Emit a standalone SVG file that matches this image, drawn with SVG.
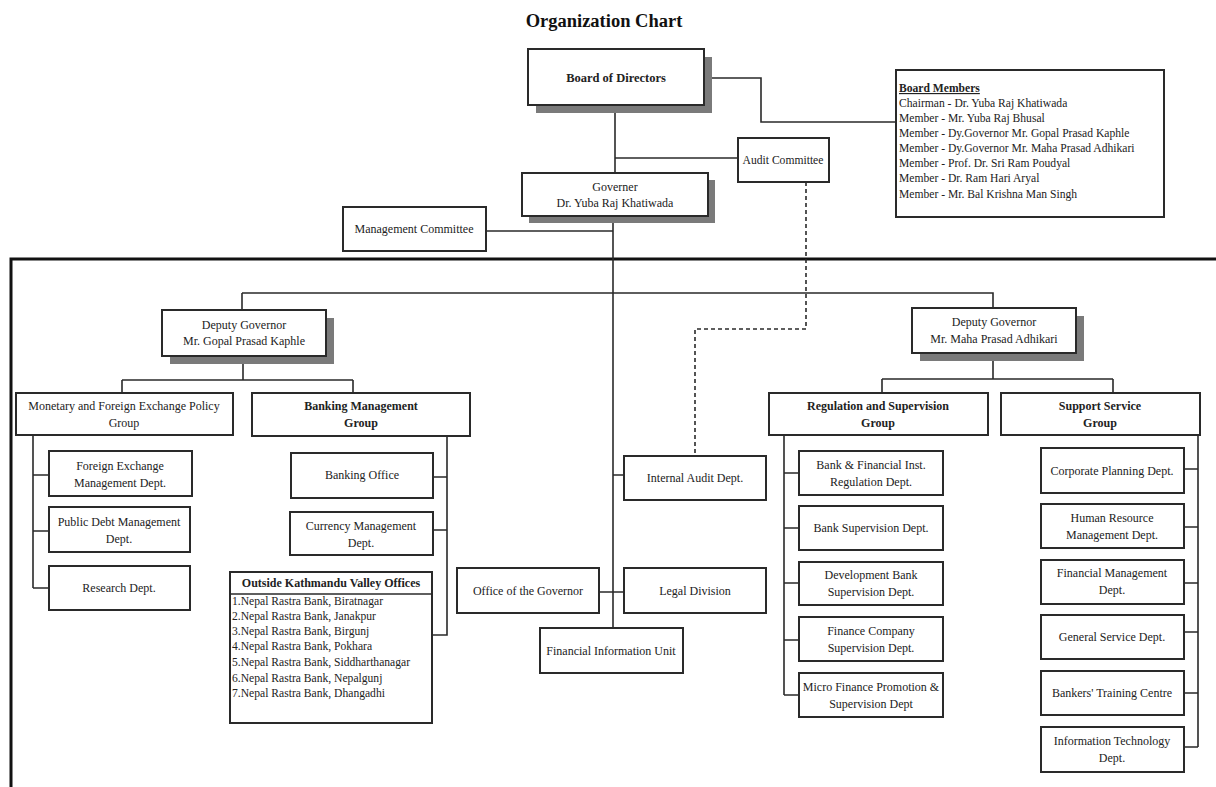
<svg xmlns="http://www.w3.org/2000/svg" width="1216" height="787" viewBox="0 0 1216 787">
<defs>
<style>
.bx{fill:#fff;stroke:#2a2a2a;stroke-width:2}
.sh{fill:#7a7a7a}
.ln{fill:none;stroke:#2a2a2a;stroke-width:1.6}
.ds{fill:none;stroke:#2a2a2a;stroke-width:1.6;stroke-dasharray:4 3}
.fr{fill:none;stroke:#111;stroke-width:3}
text{font-family:"Liberation Serif","Times New Roman",serif;font-size:12px;fill:#222}
.c{text-anchor:middle}
.b{font-weight:bold}
.m{font-size:11.6px}
.t{font-size:18.5px;font-weight:bold;fill:#111}
.bd{font-size:12.5px}
</style>
</defs>
<rect width="1216" height="787" fill="#fff"/>
<text class="t c" x="604" y="27">Organization Chart</text>
<rect class="fr" x="11" y="259" width="1210" height="530"/>
<g id="connectors">
<path class="ln" d="M704,78 H761 V122 H896"/>
<path class="ln" d="M615,105 V173"/>
<path class="ln" d="M615,158 H738"/>
<path class="ln" d="M486,231 H613"/>
<path class="ln" d="M613,216 V628"/>
<path class="ln" d="M242,293 H993 V308"/>
<path class="ln" d="M242,293 V310"/>
<path class="ln" d="M243,356 V380 M122,380 H353 M122,380 V393 M353,380 V393"/>
<path class="ln" d="M993,353 V379 M882,379 H1113 M882,379 V393 M1113,379 V393"/>
<path class="ln" d="M33,435 V588 M33,475 H49 M33,531 H49 M33,588 H49"/>
<path class="ln" d="M447,436 V635 H432 M433,477 H447 M433,530 H447"/>
<path class="ln" d="M613,475 H624 M599,592 H624"/>
<path class="ln" d="M784,435 V695 M784,473 H799 M784,528 H799 M784,583 H799 M784,640 H799 M784,695 H799"/>
<path class="ln" d="M1198,435 V747 M1184,469 H1198 M1184,527 H1198 M1184,583 H1198 M1184,632 H1198 M1184,693 H1198 M1184,747 H1198"/>
<path class="ds" d="M806,182 V329 H695 V456"/>
</g>
<g id="board">
<rect class="sh" x="536" y="57" width="176" height="56"/>
<rect class="bx" x="528" y="49" width="176" height="56"/>
<text class="c b bd" x="616" y="82">Board of Directors</text>
</g>
<g id="board-members">
<rect class="bx" x="896" y="70" width="268" height="147"/>
<text x="899" y="92" class="b m" text-decoration="underline">Board Members</text>
<text class="m" x="899" y="107">Chairman - Dr. Yuba Raj Khatiwada</text>
<text class="m" x="899" y="122">Member - Mr. Yuba Raj Bhusal</text>
<text class="m" x="899" y="137">Member - Dy.Governor Mr. Gopal Prasad Kaphle</text>
<text class="m" x="899" y="152">Member - Dy.Governor Mr. Maha Prasad Adhikari</text>
<text class="m" x="899" y="167">Member - Prof. Dr. Sri Ram Poudyal</text>
<text class="m" x="899" y="182">Member - Dr. Ram Hari Aryal</text>
<text class="m" x="899" y="198">Member - Mr. Bal Krishna Man Singh</text>
</g>
<g id="audit-committee">
<rect class="bx" x="738" y="138" width="91" height="44"/>
<text class="c m" x="783" y="164">Audit Committee</text>
</g>
<g id="governor">
<rect class="sh" x="529" y="180" width="186" height="43"/>
<rect class="bx" x="522" y="173" width="186" height="43"/>
<text class="c" x="615" y="191">Governer</text>
<text class="c" x="615" y="207">Dr. Yuba Raj Khatiwada</text>
</g>
<g id="management-committee">
<rect class="bx" x="343" y="207" width="143" height="44"/>
<text class="c" x="414" y="233">Management Committee</text>
</g>
<g id="dg-left">
<rect class="sh" x="170" y="318" width="164" height="46"/>
<rect class="bx" x="162" y="310" width="164" height="46"/>
<text class="c" x="244" y="329">Deputy Governor</text>
<text class="c" x="244" y="345">Mr. Gopal Prasad Kaphle</text>
</g>
<g id="dg-right">
<rect class="sh" x="920" y="316" width="164" height="45"/>
<rect class="bx" x="912" y="308" width="164" height="45"/>
<text class="c" x="994" y="326">Deputy Governor</text>
<text class="c" x="994" y="343">Mr. Maha Prasad Adhikari</text>
</g>
<g id="monetary-group">
<rect class="bx" x="16" y="393" width="217" height="42"/>
<text class="c" x="124" y="410">Monetary and Foreign Exchange Policy</text>
<text class="c" x="124" y="427">Group</text>
</g>
<g id="banking-group">
<rect class="bx" x="252" y="393" width="218" height="43"/>
<text class="c b" x="361" y="410">Banking Management</text>
<text class="c b" x="361" y="427">Group</text>
</g>
<g id="fx-dept">
<rect class="bx" x="49" y="451" width="143" height="45"/>
<text class="c" x="120" y="470">Foreign Exchange</text>
<text class="c" x="120" y="487">Management Dept.</text>
</g>
<g id="public-debt">
<rect class="bx" x="49" y="507" width="141" height="45"/>
<text class="c" x="119" y="526">Public Debt Management</text>
<text class="c" x="119" y="543">Dept.</text>
</g>
<g id="research">
<rect class="bx" x="49" y="566" width="141" height="44"/>
<text class="c" x="119" y="592">Research Dept.</text>
</g>
<g id="banking-office">
<rect class="bx" x="291" y="453" width="142" height="45"/>
<text class="c" x="362" y="479">Banking Office</text>
</g>
<g id="currency">
<rect class="bx" x="290" y="512" width="143" height="43"/>
<text class="c" x="361" y="530">Currency Management</text>
<text class="c" x="361" y="547">Dept.</text>
</g>
<g id="outside-offices">
<rect class="bx" x="230" y="572" width="202" height="151"/>
<path class="ln" d="M230,594 H432"/>
<text class="c b" x="331" y="587">Outside Kathmandu Valley Offices</text>
<text class="m" x="232" y="605">1.Nepal Rastra Bank, Biratnagar</text>
<text class="m" x="232" y="620">2.Nepal Rastra Bank, Janakpur</text>
<text class="m" x="232" y="635">3.Nepal Rastra Bank, Birgunj</text>
<text class="m" x="232" y="650">4.Nepal Rastra Bank, Pokhara</text>
<text class="m" x="232" y="666">5.Nepal Rastra Bank, Siddharthanagar</text>
<text class="m" x="232" y="682">6.Nepal Rastra Bank, Nepalgunj</text>
<text class="m" x="232" y="697">7.Nepal Rastra Bank, Dhangadhi</text>
</g>
<g id="internal-audit">
<rect class="bx" x="624" y="456" width="142" height="44"/>
<text class="c" x="695" y="482">Internal Audit Dept.</text>
</g>
<g id="office-governor">
<rect class="bx" x="457" y="568" width="142" height="45"/>
<text class="c" x="528" y="595">Office of the Governor</text>
</g>
<g id="legal">
<rect class="bx" x="624" y="568" width="142" height="45"/>
<text class="c" x="695" y="595">Legal Division</text>
</g>
<g id="fiu">
<rect class="bx" x="540" y="628" width="143" height="45"/>
<text class="c" x="611" y="655">Financial Information Unit</text>
</g>
<g id="regulation-group">
<rect class="bx" x="769" y="393" width="219" height="42"/>
<text class="c b" x="878" y="410">Regulation and Supervision</text>
<text class="c b" x="878" y="427">Group</text>
</g>
<g id="support-group">
<rect class="bx" x="1001" y="393" width="199" height="42"/>
<text class="c b" x="1100" y="410">Support Service</text>
<text class="c b" x="1100" y="427">Group</text>
</g>
<g id="bfi-reg">
<rect class="bx" x="799" y="451" width="144" height="44"/>
<text class="c" x="871" y="469">Bank &amp; Financial Inst.</text>
<text class="c" x="871" y="486">Regulation Dept.</text>
</g>
<g id="bank-sup">
<rect class="bx" x="799" y="506" width="144" height="44"/>
<text class="c" x="871" y="532">Bank Supervision Dept.</text>
</g>
<g id="dev-bank">
<rect class="bx" x="799" y="562" width="144" height="43"/>
<text class="c" x="871" y="579">Development Bank</text>
<text class="c" x="871" y="596">Supervision Dept.</text>
</g>
<g id="finance-co">
<rect class="bx" x="799" y="617" width="144" height="44"/>
<text class="c" x="871" y="635">Finance Company</text>
<text class="c" x="871" y="652">Supervision Dept.</text>
</g>
<g id="micro-finance">
<rect class="bx" x="799" y="673" width="144" height="44"/>
<text class="c" x="871" y="691">Micro Finance Promotion &amp;</text>
<text class="c" x="871" y="708">Supervision Dept</text>
</g>
<g id="corp-planning">
<rect class="bx" x="1041" y="448" width="143" height="45"/>
<text class="c" x="1112" y="475">Corporate Planning Dept.</text>
</g>
<g id="hr">
<rect class="bx" x="1041" y="504" width="143" height="44"/>
<text class="c" x="1112" y="522">Human Resource</text>
<text class="c" x="1112" y="539">Management  Dept.</text>
</g>
<g id="fin-mgmt">
<rect class="bx" x="1041" y="560" width="143" height="44"/>
<text class="c" x="1112" y="577">Financial Management</text>
<text class="c" x="1112" y="594">Dept.</text>
</g>
<g id="general-service">
<rect class="bx" x="1041" y="615" width="143" height="44"/>
<text class="c" x="1112" y="641">General Service Dept.</text>
</g>
<g id="training">
<rect class="bx" x="1041" y="671" width="143" height="44"/>
<text class="c" x="1112" y="697">Bankers' Training Centre</text>
</g>
<g id="it">
<rect class="bx" x="1041" y="727" width="143" height="45"/>
<text class="c" x="1112" y="745">Information Technology</text>
<text class="c" x="1112" y="762">Dept.</text>
</g>
</svg>
